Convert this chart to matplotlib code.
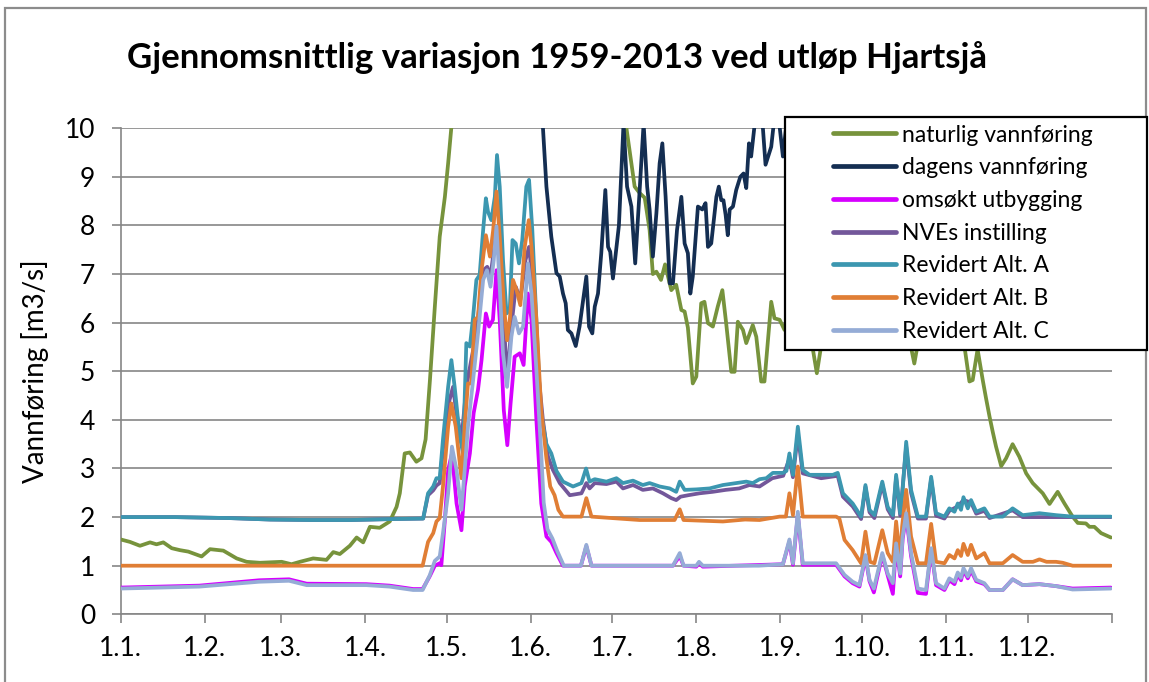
import matplotlib
matplotlib.use("Agg")
import matplotlib.pyplot as plt
from matplotlib.patches import Rectangle

plt.rcParams['font.family'] = ['Lato', 'DejaVu Sans']

# ---------------- data (day of year, value in m3/s) ----------------
month_ticks = [0, 31, 59, 90, 120, 151, 181, 212, 243, 273, 304, 334, 365]
month_labels = ["1.1.", "1.2.", "1.3.", "1.4.", "1.5.", "1.6.", "1.7.", "1.8.",
                "1.9.", "1.10.", "1.11.", "1.12.", ""]

series_names = ["naturlig vannføring", "dagens vannføring", "omsøkt utbygging",
                "NVEs instilling", "Revidert Alt. A", "Revidert Alt. B", "Revidert Alt. C"]
series_colors = ["#77933C", "#142E52", "#D600FF", "#73579A", "#3C97B0", "#E07E35", "#95ACD6"]

natur_day = [0, 3.4, 7.1, 10.8, 13.2, 15.7, 18.8, 21.8, 24.9, 29.8, 32.9, 37.8, 42.7, 46.4,
             51.3, 59.3, 62.9, 66, 70.9, 75.8, 78.3, 80.7, 84.4, 86.9, 89.3, 91.8, 95.4, 99.1,
             101.6, 102.8, 104.6, 106.5, 108.9, 110.8, 112.3, 113.9, 115.7, 117.5, 119.4, 120.6,
             121.8, 125, 130, 135, 140, 145, 150, 155, 160, 165, 170, 175, 180, 184,
             186.2, 187.4, 189.3, 191.1, 193.0, 194.8, 196.0, 197.3, 199.0, 200.5, 202.8, 204.6,
             206.5, 207.7, 208.9, 210.7, 212.0, 213.8, 215.0, 216.3, 218.1, 219.9, 221.6, 223.0,
             224.9, 226.1, 227.3, 229.2, 230.4, 232.8, 234.1, 235.9, 237.1, 239.6, 240.8, 242.7,
             244.5, 246.5, 249, 251.5, 254.5, 256.4, 258.2, 260.5, 263, 266, 269, 272, 275, 278,
             281, 284, 287, 290.7, 292.3, 293.7, 296, 299, 302, 305, 308, 310.8, 312.6, 313.8,
             315.6, 317.5, 318.7, 320.0, 321.2, 322.4, 324.3, 326.1, 328.5, 331.0, 333.5, 335.9,
             339.6, 342.1, 345.1, 347.6, 350.6, 352.5, 355.5, 356.8, 358.6, 361.1, 364.7]
natur_val = [1.54, 1.49, 1.41, 1.48, 1.44, 1.48, 1.36, 1.32, 1.29, 1.19, 1.34, 1.31, 1.15, 1.08,
             1.06, 1.08, 1.03, 1.08, 1.15, 1.12, 1.28, 1.24, 1.41, 1.58, 1.48, 1.80, 1.78, 1.91,
             2.21, 2.49, 3.31, 3.33, 3.14, 3.21, 3.60, 4.82, 6.33, 7.77, 8.59, 9.28,
             10.03, 13, 16, 19, 21, 20, 18, 17, 16, 15, 14, 13, 12, 10.8,
             10.03, 9.55, 8.80, 8.67, 8.57, 7.91, 7.00, 7.05, 6.88, 7.20, 6.67, 6.78,
             6.26, 6.23, 5.90, 4.75, 4.89, 6.40, 6.43, 5.99, 5.92, 6.33, 6.67, 5.99,
             4.99, 4.99, 6.02, 5.85, 5.58, 5.95, 5.71, 4.79, 4.79, 6.43, 6.09, 6.06,
             5.85, 6.4, 6.1, 6.5, 5.6, 4.96, 5.6, 6.3, 5.9, 6.6, 6.1, 6.8, 6.3, 6.6,
             6.0, 6.4, 5.9, 5.6, 5.16, 5.6, 6.2, 6.7, 6.3, 6.0, 6.2, 5.5, 4.79, 4.82,
             5.45, 4.82, 4.45, 4.07, 3.75, 3.45, 3.05, 3.21, 3.50, 3.24, 2.90, 2.70,
             2.49, 2.27, 2.52, 2.28, 2.01, 1.88, 1.87, 1.80, 1.80, 1.67, 1.58]

dagens_day = [0, 30, 60, 90, 120, 140, 150, 154, 155.5, 156.8, 158.6, 160.5, 161.7, 162.9,
              163.9, 164.7, 166.0, 167.6, 169.0, 171.5, 172.5, 173.7, 174.6, 175.8, 177.0,
              178.5, 179.5, 180.3, 181.3, 183.5, 185.2, 186.5, 188.1, 189.5, 191.0, 192.6,
              193.9, 194.8, 196.0, 197.3, 198.5, 199.5, 200.7, 202.2, 203.4, 204.9, 206.5,
              207.7, 208.9, 209.8, 210.7, 212.6, 214.2, 215.4, 216.3, 217.5, 219.4, 220.3,
              221.2, 222.0, 222.8, 223.6, 224.3, 225.5, 226.7, 228.2, 229.4, 230.4, 231.4,
              232.2, 233.4, 234.5, 235.5, 236.5, 237.5, 239.6, 240.4, 241.5, 242.7, 243.9,
              246, 250, 260, 270, 280, 290, 300, 310, 320, 330, 340, 350, 365]
dagens_val = [13.0, 13.5, 13.0, 12.5, 13.0, 14.0, 12.0, 10.8, 10.03, 8.80, 7.77, 7.02, 6.95, 6.60,
              6.40, 5.85, 5.78, 5.52, 5.92, 6.95, 5.92, 5.78, 6.33, 6.60, 7.43,
              8.73, 7.56, 7.46, 6.91, 8.00, 10.1, 8.80, 8.39, 7.22, 8.60, 10.1,
              8.80, 8.33, 7.36, 8.25, 9.28, 9.69, 8.59, 6.81, 6.81, 7.91, 8.59,
              7.63, 7.43, 6.60, 6.95, 8.39, 8.33, 8.46, 7.56, 7.63, 8.59, 8.80,
              8.52, 8.52, 8.22, 7.80, 8.33, 8.39, 8.73, 9.00, 9.07, 8.77, 9.69,
              9.42, 10.03, 10.6, 10.5, 10.03, 9.25, 9.62, 10.03, 10.5, 10.03, 9.42,
              10.5, 11, 10.5, 11.5, 12, 11, 11.5, 12, 11, 10.5, 10, 9.5, 9.5]

omsokt_day = [0, 29, 51, 62, 68.5, 90.5, 99, 107.7, 111.2, 113.8, 115.7, 117.5, 118.1, 119.4,
              120.6, 122.0, 123.7, 125.5, 126.7, 128.6, 130.0, 131.6, 132.9, 134.5, 135.7,
              137.1, 138.4, 139.6, 141.1, 142.4, 143.6, 145.1, 147.0, 148.4, 150.0, 151.3,
              153.1, 154.9, 156.8, 158.6, 160.5, 162.9, 169.5, 171.5, 173.4, 203.4, 205.9,
              207.3, 212, 213, 214.4, 243.9, 246.3, 247.6, 249.4, 251.2, 263.5, 266.6, 269.6,
              272.1, 274.3, 275.8, 277.4, 280.5, 282.5, 284.4, 285.6, 287.1, 288.0, 289.3,
              291.1, 293.6, 296.6, 298.5, 300.3, 303.4, 305.2, 307.1, 308.3, 309.5, 310.4,
              312.0, 313.2, 315.1, 318.1, 320, 324.9, 328.5, 332.2, 338.4, 344.5, 350.6, 364.7]
omsokt_val = [0.55, 0.59, 0.70, 0.72, 0.63, 0.62, 0.59, 0.52, 0.52, 0.78, 1.00, 1.05, 1.01, 1.94,
              2.97, 3.31, 2.28, 1.73, 2.63, 3.31, 4.14, 4.62, 5.23, 6.19, 5.92,
              6.06, 7.08, 6.06, 4.20, 3.48, 4.34, 5.30, 5.37, 5.13, 6.60, 6.06,
              4.00, 2.28, 1.60, 1.49, 1.26, 1.00, 1.00, 1.40, 1.00, 1.00, 1.20,
              1.00, 0.98, 1.05, 0.98, 1.03, 1.50, 1.02, 2.05, 1.02, 1.02, 0.78, 0.64,
              0.57, 1.18, 0.68, 0.45, 1.22, 0.80, 0.42, 1.42, 0.78, 1.55, 2.02,
              1.20, 0.44, 0.42, 1.32, 0.60, 0.50, 0.70, 0.62, 0.82, 0.70, 0.90,
              0.74, 0.90, 0.68, 0.62, 0.50, 0.50, 0.72, 0.60, 0.62, 0.58, 0.53, 0.55]

nve_day = [0, 20, 40, 55, 70, 85, 100, 111.4, 113.2, 115.1, 116.3, 117.5, 118.7, 120.6, 122.4,
           123.5, 125.5, 127.3, 129.1, 131.0, 133.5, 135.0, 136.2, 138.4, 139.6, 141.1, 142.3,
           143.9, 145.5, 147.2, 149.1, 150.4, 151.9, 153.7, 155.5, 157.4, 159.2, 161.7, 165.4,
           169.7, 171.5, 172.7, 174.6, 178.9, 182.6, 185, 188.7, 192.3, 196.0, 199.7, 202.8,
           204.6, 206.2, 209, 213.2, 218, 222.8, 227.8, 231.6, 235.3, 240, 244, 246.3, 247.6,
           249.4, 251.2, 258, 264.1, 266, 269.6, 272.7, 274.3, 275.8, 277.6, 280.5, 282.5,
           284.4, 285.6, 287.1, 289.3, 291.1, 293.6, 296.6, 298.5, 300.3, 303.4, 305.2, 308.3,
           310.4, 313.2, 315.1, 318.1, 320, 328.5, 332.2, 344.5, 364.7]
nve_val = [2.0, 2.0, 1.98, 1.95, 1.94, 1.94, 1.96, 1.97, 2.45, 2.55, 2.65, 2.70, 3.4, 4.3, 4.68,
           4.2, 3.59, 4.68, 5.23, 5.78, 7.08, 7.15, 6.95, 7.91, 7.43, 6.06, 4.82,
           5.92, 6.74, 6.47, 7.29, 7.56, 6.74, 5.03, 4.0, 3.24, 2.97, 2.70, 2.45,
           2.49, 2.70, 2.59, 2.70, 2.68, 2.73, 2.59, 2.66, 2.56, 2.59, 2.49, 2.39,
           2.35, 2.42, 2.45, 2.49, 2.52, 2.56, 2.59, 2.66, 2.63, 2.80, 2.85, 3.20, 2.82,
           3.70, 2.90, 2.80, 2.85, 2.42, 2.22, 1.96, 2.62, 2.10, 1.98, 2.68, 2.16,
           1.98, 2.82, 2.03, 3.45, 2.50, 1.97, 1.97, 2.78, 2.03, 1.97, 2.13, 2.22,
           2.35, 2.30, 2.07, 2.13, 1.98, 2.14, 2.00, 2.00, 2.00]

altA_day = [0, 20, 40, 55, 70, 85, 100, 111.4, 113.2, 115.1, 116.3, 117.5, 118.7, 120.6, 121.8,
            123.0, 124.9, 126.1, 127.3, 128.6, 129.8, 131.0, 132.2, 133.5, 134.5, 135.3, 136.5,
            137.8, 138.6, 139.6, 140.8, 142.1, 143.3, 144.3, 145.5, 146.7, 147.9, 149.4, 150.4,
            151.6, 153.1, 154.6, 156.8, 158.6, 160.5, 162.9, 166.6, 169.7, 171.4, 172.7, 174.6,
            178.9, 182.6, 185, 188.7, 192.3, 194.8, 198.5, 202.2, 204.6, 205.9, 207.7, 212,
            216.9, 221.8, 226.7, 230.4, 232.8, 235.3, 237.8, 240.2, 243.9, 245.2, 246.3, 247.6,
            249.4, 251.2, 253.7, 258.6, 262.3, 264.1, 266.0, 269.6, 272.7, 274.3, 275.8, 277.6,
            280.5, 282.5, 284.4, 285.6, 287.1, 288.0, 289.3, 291.1, 293.6, 296.6, 298.5, 300.3,
            303.4, 305.2, 307.1, 308.3, 309.5, 310.4, 312.0, 313.2, 315.1, 318.1, 320.0, 324.9,
            328.5, 332.2, 338.4, 344.5, 350.6, 364.7]
altA_val = [2.0, 2.0, 1.98, 1.95, 1.94, 1.94, 1.96, 1.97, 2.49, 2.63, 2.80, 2.80, 3.60, 4.68, 5.23,
            4.68, 3.65, 3.31, 5.58, 5.51, 6.12, 6.88, 6.98, 7.91, 8.56, 8.28, 8.11,
            8.59, 9.45, 8.80, 7.29, 6.19, 6.26, 7.70, 7.63, 7.22, 7.70, 8.80, 8.94,
            7.91, 6.06, 4.20, 3.50, 3.31, 2.95, 2.73, 2.63, 2.70, 3.00, 2.73, 2.78,
            2.73, 2.80, 2.70, 2.75, 2.66, 2.70, 2.63, 2.59, 2.52, 2.73, 2.56, 2.57,
            2.59, 2.66, 2.70, 2.73, 2.70, 2.78, 2.80, 2.91, 2.91, 2.95, 3.31, 2.87,
            3.86, 2.97, 2.87, 2.87, 2.87, 2.91, 2.49, 2.28, 2.01, 2.66, 2.15, 2.04,
            2.73, 2.21, 2.04, 2.87, 2.08, 2.56, 3.55, 2.56, 2.01, 2.01, 2.83, 2.08,
            2.01, 2.18, 2.11, 2.28, 2.15, 2.41, 2.18, 2.35, 2.11, 2.18, 2.01, 2.01,
            2.18, 2.04, 2.08, 2.04, 2.01, 2.01]

altB_day = [0, 111.2, 113.2, 115.1, 116.3, 117.5, 118.7, 120.6, 121.8, 123.4, 125.5, 126.7,
            127.9, 129.1, 130.4, 131.6, 132.9, 134.5, 136.0, 137.2, 138.4, 139.6, 141.1, 142.3,
            143.3, 144.5, 145.8, 147.2, 148.8, 150.3, 151.3, 153.1, 154.9, 156.8, 158.2, 159.8,
            161.2, 162.9, 169.7, 171.5, 173.4, 191.1, 204, 205.9, 207.3, 221.8, 230, 235.3,
            242.7, 245, 246.3, 247.6, 249.4, 251.2, 263.5, 264.7, 266.6, 269.6, 272.7, 274.3,
            276.0, 277.6, 280.5, 282.5, 284.4, 285.6, 287.1, 287.8, 289.3, 291.1, 293.6, 296.6,
            298.5, 300.3, 303.4, 305.2, 307.1, 308.3, 309.5, 310.4, 312.0, 313.2, 315.1, 318.1,
            320.0, 324.9, 328.5, 332.2, 336, 338.4, 341, 344.5, 347, 350.6, 364.7]
altB_val = [1.0, 1.0, 1.49, 1.67, 1.91, 1.98, 2.63, 3.86, 4.34, 3.86, 2.80, 3.86,
            4.75, 4.75, 6.06, 6.12, 7.08, 7.80, 7.36, 7.91, 8.70, 7.77, 6.40, 5.64,
            6.06, 6.88, 6.67, 6.36, 7.56, 8.11, 7.56, 6.06, 4.20, 3.20, 2.63, 2.45,
            2.15, 2.01, 2.01, 2.39, 2.01, 1.94, 1.94, 2.16, 1.94, 1.91, 1.95, 1.94,
            2.01, 2.01, 2.49, 2.04, 3.04, 2.01, 2.01, 1.97, 1.53, 1.32, 1.05, 1.70,
            1.08, 1.05, 1.73, 1.26, 1.08, 1.91, 1.12, 1.80, 2.56, 1.60, 1.05, 1.05,
            1.86, 1.08, 1.05, 1.22, 1.15, 1.32, 1.20, 1.45, 1.22, 1.43, 1.15, 1.26,
            1.05, 1.05, 1.22, 1.08, 1.08, 1.13, 1.08, 1.08, 1.06, 1.00, 1.00]

altC_day = [0, 29, 51, 62, 68.5, 90.5, 99, 107.7, 111.2, 113.8, 115.7, 117.5, 118.7, 120.6,
            122.0, 123.7, 125.5, 126.7, 127.9, 129.8, 131.6, 133.5, 134.9, 136.2, 137.4, 138.4,
            139.6, 140.8, 142.3, 143.9, 145.1, 146.7, 148.2, 150.0, 151.3, 153.1, 154.9, 155.8,
            157.2, 159.0, 160.8, 163.2, 169.5, 171.5, 173.4, 203.4, 205.9, 207.3, 212, 213,
            214.4, 235, 243.9, 246.3, 247.6, 249.4, 251.2, 263.5, 266.6, 269.6, 272.1, 274.3,
            275.8, 277.4, 280.5, 282.5, 284.4, 285.6, 287.1, 288.0, 289.3, 291.1, 293.6, 296.6,
            298.5, 300.3, 303.4, 305.2, 307.1, 308.3, 309.5, 310.4, 312.0, 313.2, 315.1, 318.1,
            320.0, 324.9, 328.5, 332.2, 338.4, 344.5, 350.6, 364.7]
altC_val = [0.53, 0.57, 0.67, 0.69, 0.60, 0.60, 0.57, 0.50, 0.50, 0.80, 1.10, 1.19, 1.67, 2.49,
            3.45, 2.97, 2.15, 2.97, 3.86, 4.82, 5.78, 6.88, 7.08, 6.74, 7.29, 7.98,
            6.74, 5.37, 4.68, 5.71, 6.12, 5.78, 5.92, 7.22, 6.60, 5.03, 3.30, 2.30,
            1.75, 1.56, 1.30, 1.00, 1.00, 1.43, 1.00, 1.00, 1.26, 1.00, 1.00, 1.08,
            1.00, 1.00, 1.03, 1.54, 1.05, 2.11, 1.05, 1.05, 0.81, 0.67, 0.60, 1.22,
            0.71, 0.53, 1.26, 0.84, 0.64, 1.46, 0.84, 1.60, 2.08, 1.26, 0.53, 0.50,
            1.36, 0.64, 0.53, 0.74, 0.67, 0.86, 0.75, 0.95, 0.78, 0.95, 0.71, 0.64,
            0.50, 0.50, 0.72, 0.60, 0.62, 0.58, 0.51, 0.53]

all_days = [natur_day, dagens_day, omsokt_day, nve_day, altA_day, altB_day, altC_day]
all_vals = [natur_val, dagens_val, omsokt_val, nve_val, altA_val, altB_val, altC_val]

# ---------------- figure ----------------
W, H = 1149, 682
fig = plt.figure(figsize=(W / 100, H / 100), dpi=100)
fig.patch.set_facecolor("white")

# outer chart frame
fig.add_artist(Rectangle((5 / W, -0.05), 1141 / W, 1 - 8 / H + 0.05, transform=fig.transFigure,
                         facecolor="none", edgecolor="#8C8C8C", lw=1.6, zorder=0))

ax = fig.add_axes([120.7 / W, 1 - 614.3 / H, 991 / W, 486 / H])
grid_c = "#868686"

lines = []
for i, (d, v) in enumerate(zip(all_days, all_vals)):
    ln, = ax.plot(d, v, color=series_colors[i], lw=2.7, solid_joinstyle="round",
                  solid_capstyle="round", zorder=3 + i, label=series_names[i])
    lines.append(ln)

ax.set_xlim(0, 365)
ax.set_ylim(0, 10)
ax.set_yticks(range(0, 11))
ax.set_xticks(month_ticks)
ax.set_xticklabels(month_labels)
ax.yaxis.grid(True, color=grid_c, lw=1.2)
ax.set_axisbelow(True)
for s in ["top", "right"]:
    ax.spines[s].set_visible(False)
for s in ["left", "bottom"]:
    ax.spines[s].set_color(grid_c)
    ax.spines[s].set_linewidth(1.2)
ax.tick_params(axis="both", colors=grid_c, length=6.3, width=1.2, labelcolor="black",
               labelsize=19)
ax.tick_params(axis="y", pad=12)
ax.tick_params(axis="x", pad=9)

ax.set_ylabel("Vannføring [m3/s]", fontsize=20, va="center")
ax.yaxis.set_label_coords(-0.0865, 0.5)

fig.text(557 / W, 1 - 58 / H, "Gjennomsnittlig variasjon 1959-2013 ved utløp Hjartsjå",
         ha="center", va="center", fontsize=25, fontweight="bold")

# legend box
fig.add_artist(Rectangle((785 / W, 1 - 350 / H), 362 / W, 233 / H, transform=fig.transFigure,
                         facecolor="white", edgecolor="black", lw=1.6, zorder=5))
fs = 16.5
fs_px = fs * 100 / 72
leg = fig.legend(lines, series_names, loc="upper left",
                 bbox_to_anchor=(833 / W, 1 - 124.5 / H), bbox_transform=fig.transFigure,
                 frameon=False, fontsize=fs, borderpad=0, borderaxespad=0,
                 handlelength=63 / fs_px, handletextpad=6 / fs_px, labelspacing=0.51)
leg.set_zorder(10)
for lh in leg.get_lines():
    lh.set_linewidth(3.4)

fig.savefig("out.png", dpi=100)
